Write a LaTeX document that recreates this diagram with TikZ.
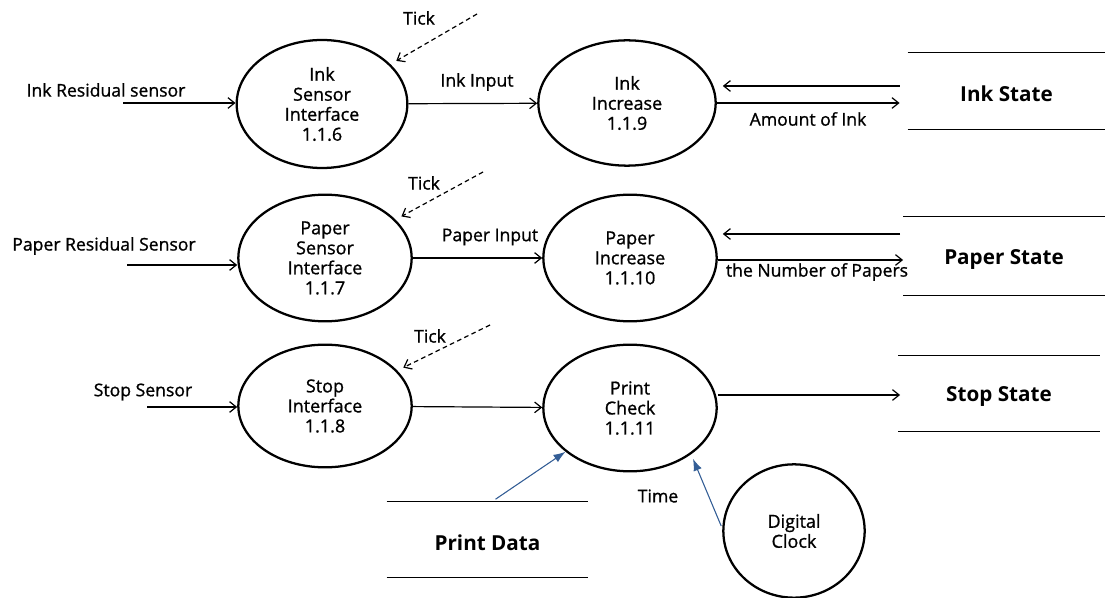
\documentclass[tikz,border=0pt]{standalone}
\usepackage{fontspec}
\setmainfont{Open Sans}[UprightFeatures={FakeBold=1}]
\usetikzlibrary{shapes.geometric,arrows.meta,calc}
\definecolor{clockblue}{RGB}{52,94,150}

\begin{document}
\begin{tikzpicture}[x=0.75pt, y=-0.75pt,
  proc/.style={draw, ellipse, line width=1.7pt, inner sep=0pt, minimum width=130pt, minimum height=95pt, align=center, font=\fontsize{13.5}{15}\selectfont},
  store/.style={inner sep=0pt, minimum width=151pt, minimum height=57pt, text height=16pt, font=\fontsize{15.5}{18}\selectfont\bfseries},
  lbl/.style={font=\fontsize{13.2}{15}\selectfont},
  flow/.style={-{Straight Barb[length=5pt,width=8pt]}, line width=0.9pt},
  tick/.style={flow, dash pattern=on 3.5pt off 2.5pt, shorten >=5pt},
  bflow/.style={-{Latex[length=9pt,width=6.5pt]}, line width=0.8pt, draw=clockblue, fill=clockblue}]

  \useasboundingbox (0,0) rectangle (1105,598);

  % processes
  \node[proc, minimum width=128pt, minimum height=96pt] (isi) at (322,104) {Ink\\Sensor\\Interface\\1.1.6};
  \node[proc, minimum width=133pt, minimum height=94pt] (iinc) at (627,103) {Ink\\Increase\\1.1.9};
  \node[proc] (psi) at (325,258) {Paper\\Sensor\\Interface\\1.1.7};
  \node[proc] (pinc) at (630,258) {Paper\\Increase\\1.1.10};
  \node[proc, minimum height=92pt] (sif) at (325,406) {Stop\\Interface\\1.1.8};
  \node[proc] (pchk) at (630,408) {Print\\Check\\1.1.11};
  \node[proc, minimum width=106pt, minimum height=100pt] (dclk) at (794,531) {Digital\\Clock};

  % stores
  \node[store, minimum width=148pt] (inkst) at (1006.5,91) {Ink State};
  \node[store, minimum height=58.5pt] (pst) at (1004,256) {Paper State};
  \node[store] (sst) at (999,393.5) {Stop State};
  \node[store] (pdat) at (487.5,539.5) {Print Data};
  \foreach \s in {inkst,pst,sst,pdat}
    \draw[line width=0.9pt] (\s.north west) -- (\s.north east) (\s.south west) -- (\s.south east);

  % sensors
  \node[lbl] (inkres) at (106,90) {Ink Residual sensor};
  \coordinate (inkin) at (123,103);
  \draw[flow] (inkin) -- (inkin -| isi.west);
  \node[lbl] (papres) at (104,246) {Paper Residual Sensor};
  \coordinate (papin) at (127,265);
  \draw[flow] (papin) -- (papin -| psi.west);
  \node[lbl] (stopsen) at (143,392) {Stop Sensor};
  \coordinate (stopin) at (147,407);
  \draw[flow] (stopin) -- (stopin -| sif.west);

  % ticks
  \node[lbl] (ticka) at (419,18) {Tick};
  \coordinate (tka) at (477,14);
  \draw[tick] (tka) -- (isi);
  \node[lbl] (tickb) at (424,183) {Tick};
  \coordinate (tkb) at (483,172);
  \draw[tick] (tkb) -- (psi);
  \node[lbl] (tickc) at (430,336) {Tick};
  \coordinate (tkc) at (490,325);
  \draw[tick] (tkc) -- (sif);

  % flows between processes
  \draw[flow] (isi) -- (iinc);
  \node[lbl] (inkinp) at (477,82) {Ink Input};
  \draw[flow] (psi) -- (pinc);
  \node[lbl] (papinp) at (490,237) {Paper Input};
  \draw[flow] (sif) -- (pchk);

  % flows to stores
  \draw[flow] ($(inkst.west)+(-8,-5)$) -- ($(iinc.east)+(6,-17)$);
  \draw[flow] (iinc.east) -- ($(inkst.west)+(-8,12)$);
  \node[lbl] (amink) at (808,119) {Amount of Ink};
  \draw[flow] ($(pst.west)+(-3,-22)$) -- ($(pinc.east)+(5,-24)$);
  \draw[flow] ($(pinc.east)+(0,2)$) -- ($(pst.west)+(0,4)$);
  \node[lbl] (numpap) at (817,272) {the Number of Papers};
  \draw[flow] ($(pchk.east)+(0,-13)$) -- ($(sst.west)+(2,1.5)$);

  % print data and clock
  \draw[bflow] ($(pdat.north)+(8,-2)$) -- (pchk);
  \draw[bflow] ($(dclk.west)+(-1,-5)$) -- ($(pchk.-39)+(4,3)$);
  \node[lbl] (time) at (658,496) {Time};

\end{tikzpicture}
\end{document}
